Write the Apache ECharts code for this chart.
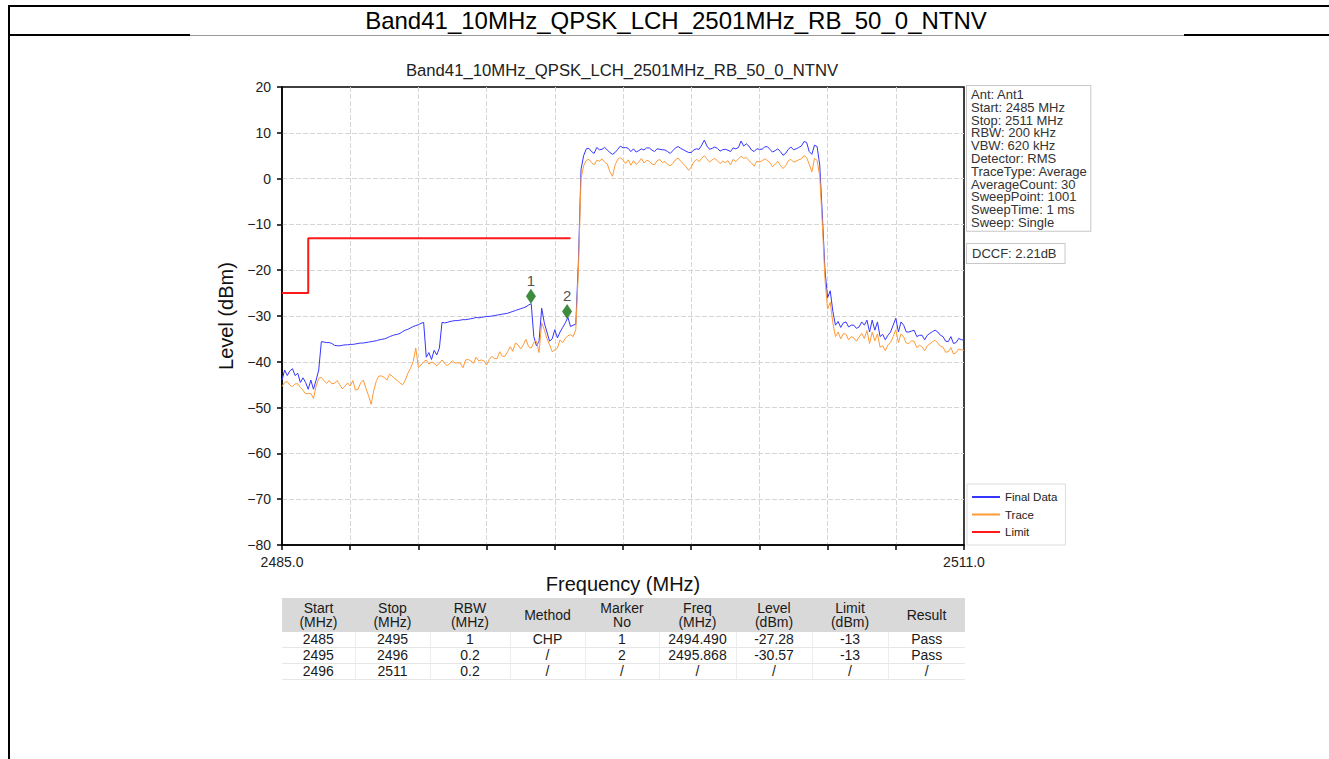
<!DOCTYPE html>
<html>
<head>
<meta charset="utf-8">
<title>Band41_10MHz_QPSK_LCH_2501MHz_RB_50_0_NTNV</title>
<script src="https://cdn.jsdelivr.net/npm/echarts@6/dist/echarts.min.js"></script>
<style>
body { margin: 0; background: #fff; font-family: "Liberation Sans", Arial, sans-serif; }
#page { position: relative; width: 1329px; height: 759px; overflow: hidden; }
#main { position: absolute; left: 0; top: 0; width: 1329px; height: 759px; }
.ln { position: absolute; background: #000; }
#head { position: absolute; left: 676px; top: 7px; transform: translateX(-50%); font-size: 24px; line-height: 27px; color: #000; white-space: nowrap; }
#tbl { position: absolute; left: 282px; top: 598px; width: 683px; border-collapse: collapse; table-layout: fixed; font-size: 14px; color: #1a1a1a; }
#tbl th { background: #d9d9d9; font-weight: normal; height: 34px; line-height: 14px; padding: 0; text-align: center; }
#tbl td { height: 15px; line-height: 15px; padding: 0; text-align: center; border-bottom: 1px solid #e6e6e6; border-left: 1px solid #ededed; }
#tbl td:first-child { border-left: none; }
</style>
</head>
<body>
<div id="page">
  <div id="main"></div>
  <div class="ln" style="left:8px;top:5px;width:1321px;height:2px"></div>
  <div class="ln" style="left:8px;top:5px;width:2px;height:754px"></div>
  <div class="ln" style="left:8px;top:34px;width:182px;height:2px"></div>
  <div class="ln" style="left:190px;top:35px;width:994px;height:1px;background:#9a9a9a"></div>
  <div class="ln" style="left:1184px;top:34px;width:145px;height:2px"></div>
  <div id="head"></div>
  <table id="tbl"></table>
</div>
<script>
var chartTitle = 'Band41_10MHz_QPSK_LCH_2501MHz_RB_50_0_NTNV';
var startMHz = 2485;
var stopMHz = 2511;
var stepMHz = 0.1;

// Final Data, one value every 0.1 MHz from 2485.0
var finalData = [
    -44, -41.8, -43, -42, -41.5, -43, -42.5, -44.5, -43.5, -44.5,
    -46, -44, -46, -44, -41.8, -35.6, -35.7, -35.8, -35.8, -36.0,
    -36.4, -36.5, -36.5, -36.4, -36.3, -36.3, -36.2, -36.2, -36.1, -36.0,
    -35.9, -35.9, -35.8, -35.7, -35.6, -35.5, -35.4, -35.2, -35.1, -35.0,
    -34.8, -34.5, -34.3, -34.1, -34.0, -33.8, -33.4, -33.1, -32.9, -32.6,
    -32.3, -32.1, -31.9, -31.6, -31.4, -39.0, -38.0, -39.5, -37.5, -38.5,
    -37.0, -31.4, -31.5, -31.4, -31.2, -31.1, -31.0, -31.0, -30.9, -30.8,
    -30.8, -30.7, -30.6, -30.5, -30.3, -30.4, -30.3, -30.2, -30.1, -30.1,
    -30.0, -29.9, -29.8, -29.7, -29.6, -29.5, -29.4, -29.2, -29.0, -28.8,
    -28.6, -28.4, -28.2, -28.0, -27.6, -27.3, -34.5, -36.5, -35.5, -28.3,
    -31.5, -33.5, -35.5, -35.0, -33.0, -34.8, -33.5, -32.5, -31.5, -30.3,
    -32.3, -32.0, -31.8, -18, 2.0, 5.0, 6.5, 6.6, 5.9, 5.5,
    6.8, 6.3, 6.4, 6.8, 6.25, 5.7, 5.3, 5.7, 6.4, 7.1,
    6.7, 6.8, 6.6, 5.9, 6.5, 5.8, 6.1, 6.5, 6.25, 6.7,
    6.7, 6.25, 5.9, 6.5, 6.4, 6.3, 6.25, 5.9, 5.5, 6.1,
    6.7, 7.0, 6.6, 6.3, 6.0, 5.7, 5.7, 6.25, 6.5, 6.4,
    7.3, 8.4, 7.1, 6.4, 6.6, 6.9, 6.6, 6.0, 6.3, 6.4,
    6.2, 5.9, 6.7, 6.5, 6.8, 8.2, 7.1, 7.6, 7.1, 6.25,
    5.9, 6.5, 6.4, 6.4, 6.9, 7.0, 6.4, 5.8, 6.1, 6.5,
    5.9, 5.1, 5.5, 6.4, 6.9, 6.3, 6.5, 6.8, 7.1, 8.1,
    7.9, 5.9, 5.3, 7.3, 7.0, 3.0, -8, -20, -26, -24.5,
    -29.0, -32.0, -31.2, -32.5, -31.5, -31.3, -32.4, -32.0, -32.0, -32.7,
    -32.4, -31.3, -32.0, -30.9, -33.5, -30.9, -33.1, -31.3, -34.5, -34.0,
    -35.2, -34.2, -33.5, -32.0, -30.5, -33.5, -31.3, -32.0, -33.5, -33.5,
    -33.3, -33.1, -34.5, -34.2, -34.2, -35.2, -34.2, -33.8, -33.4, -33.1,
    -33.5, -34.2, -34.5, -35.5, -35.6, -34.5, -36.0, -35.8, -34.9, -35.2,
    -35.2
];

// Trace, same frequency grid
var traceData = [
    -45.4, -44.5, -44.3, -45.1, -45.4, -44.8, -44.8, -45.6, -46.2, -47.0,
    -46.9, -46.9, -48.0, -45.3, -43.6, -43.4, -44.1, -44.7, -44.1, -44.8,
    -44.7, -44.1, -45.0, -45.9, -45.3, -44.6, -45.3, -44.1, -46.2, -46.0,
    -44.6, -44.0, -45.8, -47.4, -49.3, -46.2, -44.1, -43.1, -43.1, -43.4,
    -44.0, -42.7, -43.1, -43.7, -44.1, -44.7, -45.0, -44.0, -42.5, -41.4,
    -40.0, -37.0, -41.2, -40.7, -40.0, -39.6, -40.5, -40.1, -40.3, -40.9,
    -40.3, -39.6, -40.3, -40.9, -40.3, -39.8, -40.3, -40.2, -40.3, -41.3,
    -39.6, -39.5, -39.8, -40.3, -39.0, -39.8, -39.6, -39.8, -40.7, -39.5,
    -38.8, -39.3, -39.3, -37.8, -38.8, -38.8, -37.8, -36.7, -37.7, -35.9,
    -36.3, -37.2, -36.3, -35.1, -36.7, -37.0, -35.8, -35.5, -38.0, -31.5,
    -33.0, -34.9, -36.3, -37.8, -37.4, -37.0, -35.2, -35.8, -34.9, -34.3,
    -34.1, -34.5, -33.0, -20, 0.0, 2.8, 4.0, 4.2, 3.5, 3.0,
    4.0, 3.8, 4.3, 3.6, 3.2, 1.5, 0.5, 3.0, 4.2, 4.6,
    4.0, 3.3, 4.1, 2.9, 3.9, 3.1, 3.6, 4.4, 3.4, 4.0,
    3.8, 3.2, 3.0, 3.9, 4.2, 3.5, 3.7, 3.1, 2.8, 3.3,
    4.1, 4.5, 3.8, 3.2, 2.6, 1.8, 2.5, 3.6, 4.2, 3.7,
    4.4, 5.0, 4.3, 3.6, 4.1, 4.4, 3.9, 3.3, 3.8, 3.5,
    3.9, 3.0, 4.2, 3.7, 4.3, 4.9, 4.4, 4.6, 3.9, 3.4,
    2.7, 3.8, 3.6, 3.9, 4.3, 4.0, 3.5, 2.6, 3.1, 3.8,
    2.9, 2.2, 2.8, 3.9, 4.2, 3.6, 3.8, 4.1, 4.3, 5.0,
    4.6, 3.1, 1.5, 4.4, 4.0, 0.5, -10, -22, -28.5, -27.0,
    -31.5, -34.5, -33.5, -35.0, -33.8, -34.0, -35.2, -34.5, -34.8, -35.5,
    -34.6, -33.8, -34.9, -33.2, -36.0, -33.5, -35.4, -33.9, -36.8, -36.5,
    -37.6, -36.3, -35.8, -34.5, -33.0, -35.8, -33.9, -34.6, -35.9, -36.0,
    -35.4, -35.5, -36.9, -36.4, -36.7, -37.6, -36.5, -36.1, -35.6, -35.3,
    -35.9, -36.6, -36.8, -37.9, -37.8, -36.9, -38.3, -38.0, -37.2, -37.4,
    -37.5
];

var limitFreq = [2485, 2486, 2486, 2496];
var limitLevel = [-25, -25, -13, -13];

var markerFreq = [2494.49, 2495.868];
var markerLevel = [-25.7, -29.0];
var markerNames = ['1', '2'];

var infoLines = ['Ant: Ant1', 'Start: 2485 MHz', 'Stop: 2511 MHz', 'RBW: 200 kHz', 'VBW: 620 kHz',
    'Detector: RMS', 'TraceType: Average', 'AverageCount: 30', 'SweepPoint: 1001',
    'SweepTime: 1 ms', 'Sweep: Single'];
var dccfText = 'DCCF: 2.21dB';

var tableHead = ['Start\n(MHz)', 'Stop\n(MHz)', 'RBW\n(MHz)', 'Method', 'Marker\nNo',
    'Freq\n(MHz)', 'Level\n(dBm)', 'Limit\n(dBm)', 'Result'];
var colWidths = [73, 75, 80, 75, 74, 77, 76, 76, 77];
var tableRows = [
    ['2485', '2495', '1', 'CHP', '1', '2494.490', '-27.28', '-13', 'Pass'],
    ['2495', '2496', '0.2', '/', '2', '2495.868', '-30.57', '-13', 'Pass'],
    ['2496', '2511', '0.2', '/', '/', '/', '/', '/', '/']
];

document.getElementById('head').textContent = chartTitle;

// table under the plot
var html = '<colgroup>';
colWidths.forEach(function (w) { html += '<col style="width:' + w + 'px">'; });
html += '</colgroup><tr>';
tableHead.forEach(function (h) { html += '<th>' + h.replace('\n', '<br>') + '</th>'; });
html += '</tr>';
tableRows.forEach(function (r) {
    html += '<tr>';
    r.forEach(function (c) { html += '<td>' + c + '</td>'; });
    html += '</tr>';
});
document.getElementById('tbl').innerHTML = html;

function freqAt(i) {
    return +(startMHz + i * stepMHz).toFixed(1);
}
var finalPts = finalData.map(function (v, i) { return [freqAt(i), v]; });
var tracePts = traceData.map(function (v, i) { return [freqAt(i), v]; });
var limitPts = limitFreq.map(function (f, i) { return [f, limitLevel[i]]; });
var markerPts = markerFreq.map(function (f, i) { return { value: [f, markerLevel[i]], name: markerNames[i] }; });

var font = '"Liberation Sans", Arial, sans-serif';
var gridLine = {
    show: true, showMinLine: false, showMaxLine: false,
    lineStyle: { color: '#d6d6d6', width: 1, type: [5, 2] }
};

var myChart = echarts.init(document.getElementById('main'), null, { renderer: 'svg' });
var option = {
    animation: false,
    backgroundColor: '#fff',
    textStyle: { fontFamily: font },
    grid: {
        left: 282, right: 365, top: 87, bottom: 214,
        show: true, borderColor: '#000', borderWidth: 1.5,
        outerBoundsMode: 'none'
    },
    legend: {
        data: ['Final Data', 'Trace', 'Limit'],
        orient: 'vertical',
        left: 967,
        top: 484,
        icon: 'rect',
        itemWidth: 28,
        itemHeight: 2,
        itemGap: 3.5,
        padding: [6, 8, 6, 5],
        backgroundColor: '#fff',
        borderColor: '#dcdcdc',
        borderWidth: 1,
        selectedMode: false,
        textStyle: { fontSize: 11.5, lineHeight: 14, color: '#222', fontFamily: font }
    },
    xAxis: [
        {
            type: 'value',
            min: startMHz,
            max: stopMHz,
            interval: 1,
            position: 'bottom',
            axisLine: { show: true, onZero: false, lineStyle: { color: '#000', width: 1.5 } },
            axisTick: { show: false },
            splitLine: { show: false },
            axisLabel: {
                margin: 10, fontSize: 14, color: '#222', fontFamily: font,
                showMinLabel: true, showMaxLabel: true,
                formatter: function (v) {
                    return (v === startMHz || v === stopMHz) ? v.toFixed(1) : '';
                }
            },
            name: 'Frequency (MHz)',
            nameLocation: 'middle',
            nameGap: 29,
            nameTextStyle: { fontSize: 20, color: '#111', fontFamily: font }
        },
        {
            // only for the 10 tick marks and vertical grid lines
            type: 'value',
            min: 0,
            max: 10,
            interval: 1,
            position: 'bottom',
            axisLine: { show: false, onZero: false },
            axisTick: { show: true, length: 5, lineStyle: { color: '#000', width: 1.5 } },
            axisLabel: { show: false },
            splitLine: gridLine
        }
    ],
    yAxis: {
        type: 'value',
        min: -80,
        max: 20,
        interval: 10,
        axisLine: { show: true, onZero: false, lineStyle: { color: '#000', width: 1.5 } },
        axisTick: { show: true, length: 5, lineStyle: { color: '#000', width: 1.5 } },
        splitLine: gridLine,
        axisLabel: {
            margin: 11, fontSize: 14, color: '#222', fontFamily: font,
            formatter: function (v) { return v < 0 ? '\u2212' + Math.abs(v) : String(v); }
        },
        name: 'Level (dBm)',
        nameLocation: 'middle',
        nameGap: 44,
        nameTextStyle: { fontSize: 20, color: '#111', fontFamily: font }
    },
    graphic: [
        {
            type: 'text', x: 622, y: 70,
            style: { text: chartTitle, font: '16.7px ' + font, fill: '#222', align: 'center', verticalAlign: 'middle' }
        },
        {
            type: 'text', x: 967, y: 86,
            style: {
                text: infoLines.join('\n'), font: '13px ' + font, lineHeight: 12.8, fill: '#333',
                backgroundColor: '#fff', borderColor: '#c8c8c8', borderWidth: 1, padding: [2, 3, 2, 4]
            }
        },
        {
            type: 'text', x: 967, y: 244,
            style: {
                text: dccfText, font: '13px ' + font, lineHeight: 13, fill: '#333',
                backgroundColor: '#fff', borderColor: '#c8c8c8', borderWidth: 1, padding: [3, 8, 3, 5]
            }
        }
    ],
    series: [
        {
            name: 'Final Data', type: 'line', data: finalPts, showSymbol: false, symbol: 'none',
            color: '#3535ff', lineStyle: { width: 1, color: '#3535ff' }, z: 2
        },
        {
            name: 'Trace', type: 'line', data: tracePts, showSymbol: false, symbol: 'none',
            color: '#ff9a36', lineStyle: { width: 1, color: '#ff9a36' }, z: 3
        },
        {
            name: 'Limit', type: 'line', data: limitPts, showSymbol: false, symbol: 'none',
            color: '#ff1a1a', lineStyle: { width: 2, color: '#ff1a1a' }, z: 4
        },
        {
            name: 'Markers', type: 'scatter', data: markerPts,
            symbol: 'diamond', symbolSize: [10, 15],
            itemStyle: { color: '#0f6f0f' }, z: 5,
            label: {
                show: true, position: 'top', distance: 1, fontSize: 15, color: '#222', fontFamily: font,
                formatter: function (p) { return p.name; }
            }
        }
    ]
};
myChart.setOption(option);
</script>
</body>
</html>
